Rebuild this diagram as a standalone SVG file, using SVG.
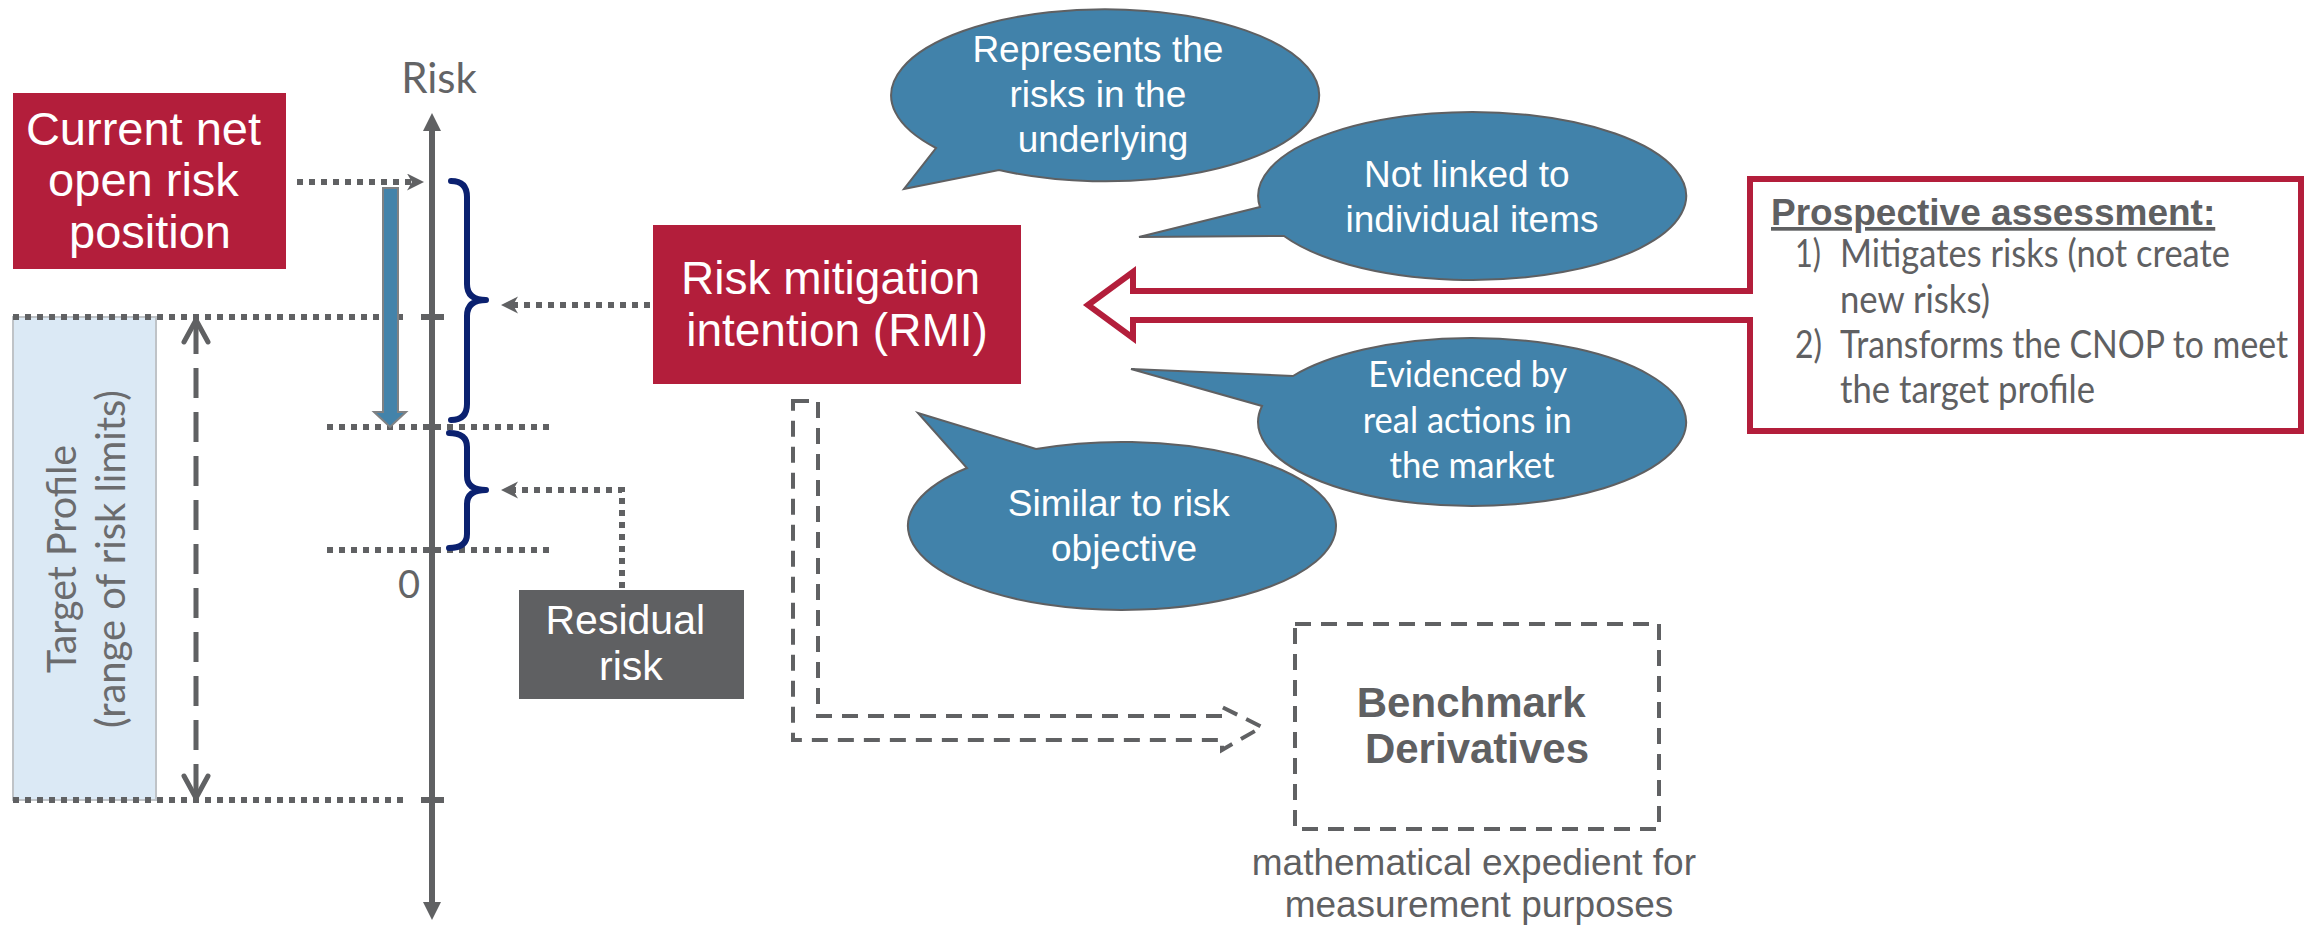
<svg xmlns="http://www.w3.org/2000/svg" width="2308" height="928" viewBox="0 0 2308 928">
  <style>
    .arial { font-family: "Liberation Sans", Arial, sans-serif; }
    .cal { font-family: Lato, "Liberation Sans", sans-serif; }
    .white { fill: #ffffff; }
    .grey { fill: #5f6062; }
    .dot { fill: none; stroke: #606163; stroke-width: 6; stroke-dasharray: 6 6; }
    .dash { fill: none; stroke: #606163; stroke-width: 4; stroke-dasharray: 16 10; }
    .brace { fill: none; stroke: #0b2170; stroke-width: 6; stroke-linecap: round; stroke-linejoin: round; }
    .bubble { fill: #4182aa; stroke: #5f6062; stroke-width: 2; }
    .redbox { fill: #b31e3b; }
  </style>
  <defs>
    <marker id="notch" markerUnits="userSpaceOnUse" markerWidth="18" markerHeight="18" refX="5" refY="8.5" orient="auto" viewBox="0 0 18 18">
      <path d="M0,0 L17,8.5 L0,17 L5,8.5 Z" fill="#606163"/>
    </marker>
  </defs>

  <rect width="2308" height="928" fill="#ffffff"/>

  <!-- target profile band -->
  <g id="target-profile">
    <rect x="13" y="317" width="143" height="483" fill="#dbe9f5" stroke="#bfc3c7" stroke-width="2"/>
    <g transform="translate(76,559) rotate(-90)" class="cal" font-size="40" fill="#6b6c6e" text-anchor="middle">
      <text x="0" y="0" textLength="228" lengthAdjust="spacingAndGlyphs">Target Profile</text>
      <text x="0" y="49" textLength="338" lengthAdjust="spacingAndGlyphs">(range of risk limits)</text>
    </g>
  </g>

  <!-- risk axis -->
  <g id="risk-axis">
    <line x1="432" y1="128" x2="432" y2="905" stroke="#606163" stroke-width="6"/>
    <path d="M432,113 L423,131 L441,131 Z" fill="#606163"/>
    <path d="M432,920 L423,902 L441,902 Z" fill="#606163"/>
    <line x1="421" y1="317" x2="444" y2="317" stroke="#606163" stroke-width="6"/>
    <line x1="421" y1="800" x2="444" y2="800" stroke="#606163" stroke-width="6"/>
    <text x="439" y="93" class="cal" font-size="42" fill="#636466" text-anchor="middle">Risk</text>
    <text x="409" y="598" class="cal" font-size="38" fill="#636466" text-anchor="middle">0</text>
  </g>

  <!-- level lines -->
  <g id="levels">
    <line x1="13" y1="317" x2="403" y2="317" class="dot"/>
    <line x1="13" y1="800" x2="403" y2="800" class="dot"/>
    <line x1="327" y1="427" x2="550" y2="427" class="dot"/>
    <line x1="327" y1="550" x2="550" y2="550" class="dot"/>
  </g>

  <!-- range of the target profile -->
  <g id="range-arrow" fill="none" stroke="#606163" stroke-width="5" stroke-linecap="round" stroke-linejoin="round">
    <line x1="196" y1="324" x2="196" y2="794" stroke-dasharray="30 14" stroke-linecap="butt"/>
    <polyline points="184,342 196,320 208,342"/>
    <polyline points="184,776 196,798 208,776"/>
  </g>

  <!-- mitigation move -->
  <g id="mitigation-arrow">
    <polygon points="383,188 398,188 398,412 406,412 390,427 374,412 383,412" fill="#4383aa" stroke="#7f8183" stroke-width="2"/>
  </g>

  <!-- braces -->
  <g id="braces">
    <path class="brace" d="M451,181 Q467,181 467,197 L467,284 Q467,300 486,300 Q467,300 467,316 L467,404 Q467,420 451,420"/>
    <path class="brace" d="M449,433 Q467,433 467,447 L467,476 Q467,490 486,490 Q467,490 467,504 L467,534 Q467,548 449,548"/>
  </g>

  <!-- current net open risk position -->
  <g id="cnop">
    <rect x="13" y="93" width="273" height="176" class="redbox"/>
    <text class="arial white" font-size="47" text-anchor="middle">
      <tspan x="150" y="145">Current net</tspan>
      <tspan x="150" y="196">open risk</tspan>
      <tspan x="150" y="248">position</tspan>
    </text>
  </g>

  <!-- risk mitigation intention -->
  <g id="rmi">
    <rect x="653" y="225" width="368" height="159" class="redbox"/>
    <text class="arial white" font-size="46" text-anchor="middle">
      <tspan x="837" y="294">Risk mitigation</tspan>
      <tspan x="837" y="346">intention (RMI)</tspan>
    </text>
  </g>

  <!-- residual risk -->
  <g id="residual-risk">
    <rect x="519" y="590" width="225" height="109" fill="#5f6062"/>
    <text class="arial white" font-size="41" text-anchor="middle">
      <tspan x="631" y="634">Residual</tspan>
      <tspan x="631" y="680">risk</tspan>
    </text>
  </g>

  <!-- callouts -->
  <g id="callout-underlying">
    <path class="bubble" d="M999,170 A214 86 0 1 0 936,148 L904,189 Z"/>
    <text class="arial white" font-size="37" text-anchor="middle">
      <tspan x="1103" y="62">Represents the</tspan>
      <tspan x="1103" y="107">risks in the</tspan>
      <tspan x="1103" y="152">underlying</tspan>
    </text>
  </g>
  <g id="callout-items">
    <path class="bubble" d="M1260,207 A214 84 0 1 1 1284,236 L1139,237 Z"/>
    <text class="arial white" font-size="37" text-anchor="middle">
      <tspan x="1472" y="187">Not linked to</tspan>
      <tspan x="1472" y="232">individual items</tspan>
    </text>
  </g>
  <g id="callout-market">
    <path class="bubble" d="M1293,376 A214 84 0 1 1 1262,406 L1131,369 Z"/>
    <text class="cal white" font-size="37" text-anchor="middle">
      <tspan x="1472" y="387" textLength="198" lengthAdjust="spacingAndGlyphs">Evidenced by</tspan>
      <tspan x="1472" y="433" textLength="209" lengthAdjust="spacingAndGlyphs">real actions in</tspan>
      <tspan x="1472" y="478" textLength="165" lengthAdjust="spacingAndGlyphs">the market</tspan>
    </text>
  </g>
  <g id="callout-objective">
    <path class="bubble" d="M1036,449 A214 84 0 1 1 967,468 L918,413 Z"/>
    <text class="arial white" font-size="37" text-anchor="middle">
      <tspan x="1124" y="516">Similar to risk</tspan>
      <tspan x="1124" y="561">objective</tspan>
    </text>
  </g>

  <!-- prospective assessment panel with its arrow -->
  <g id="prospective-assessment">
    <path d="M1088,305 L1133,272 L1133,291 L1750,291 L1750,179 L2301,179 L2301,431 L1750,431 L1750,320 L1133,320 L1133,338 Z" fill="#ffffff" stroke="#b31e3b" stroke-width="6" stroke-linejoin="miter"/>
    <text x="1771" y="225" class="arial grey" font-size="37" font-weight="bold" text-decoration="underline">Prospective assessment:</text>
    <g class="cal grey" font-size="38">
      <text x="1795" y="267" textLength="26" lengthAdjust="spacingAndGlyphs">1)</text>
      <text x="1840" y="267" textLength="390" lengthAdjust="spacingAndGlyphs">Mitigates risks (not create</text>
      <text x="1840" y="313" textLength="150" lengthAdjust="spacingAndGlyphs">new risks)</text>
      <text x="1795" y="358" textLength="27" lengthAdjust="spacingAndGlyphs">2)</text>
      <text x="1840" y="358" textLength="448" lengthAdjust="spacingAndGlyphs">Transforms the CNOP to meet</text>
      <text x="1840" y="403" textLength="255" lengthAdjust="spacingAndGlyphs">the target profile</text>
    </g>
  </g>

  <!-- benchmark derivatives -->
  <g id="benchmark">
    <rect x="1295" y="624" width="364" height="205" class="dash" stroke-dasharray="15 10"/>
    <text class="arial grey" font-size="42" font-weight="bold" text-anchor="middle">
      <tspan x="1477" y="717">Benchmark</tspan>
      <tspan x="1477" y="763">Derivatives</tspan>
    </text>
    <text class="arial grey" font-size="37" text-anchor="middle">
      <tspan x="1479" y="875">mathematical expedient for</tspan>
      <tspan x="1479" y="917">measurement purposes</tspan>
    </text>
  </g>

  <!-- connectors -->
  <g id="connectors">
    <path d="M297,182 H412" class="dot" marker-end="url(#notch)"/>
    <path d="M650,305 H513" class="dot" marker-end="url(#notch)"/>
    <path d="M622,588 V490 H513" class="dot" marker-end="url(#notch)"/>
    <path d="M793,401 L818,401 L818,716 L1222,716 L1222,707 L1262,727 L1222,750 L1222,740 L793,740 Z" class="dash"/>
  </g>
</svg>
